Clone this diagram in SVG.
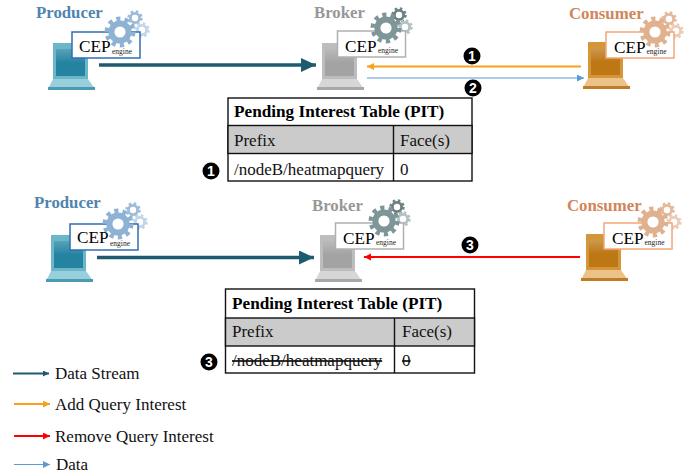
<svg xmlns="http://www.w3.org/2000/svg" xmlns:xlink="http://www.w3.org/1999/xlink" width="697" height="476" viewBox="0 0 697 476">
<style>
text{font-family:"Liberation Serif","Times New Roman",serif;fill:#111}
.title{font-size:16.8px;font-weight:bold}
.cep{font-size:17.200px;fill:#000}
.eng{font-size:7.500px;fill:#222}
.tt{font-size:17.200px;font-weight:bold;fill:#000}
.tc{font-size:17px;fill:#111}
.lg{font-size:17px}
.num{font-family:"Liberation Sans",Arial,sans-serif;font-size:14px;font-weight:bold;fill:#fff;text-anchor:middle}
.tb{fill:#fff;stroke:#111;stroke-width:1.4}
.hd{fill:#cbcbcb;stroke:#111;stroke-width:1.4}
.tl{stroke:#111;stroke-width:1.4;fill:none}
.prod{--frame:#6db5c8;--inner:#2383a0;--base:#97cfdd;--foot:#4a9bb1;--box:#2f6fb3;--g1:#8db2d3;--g2:#9dbcd8;--g3:#c2d6e8}
.brok{--frame:#bdbdbd;--inner:#a3a3a3;--base:#d6d6d6;--foot:#a8a8a8;--box:#b0b0b0;--g1:#7f9699;--g2:#6d8184;--g3:#b3c2c4}
.cons{--frame:#d39638;--inner:#bd7714;--base:#ecc28a;--foot:#bd7d24;--box:#f2a77a;--g1:#e0b18f;--g2:#e3b99b;--g3:#ecccb6}
.prod .title{fill:#4f84b0}.brok .title{fill:#979797}.cons .title{fill:#d0865a}
.frame{fill:var(--frame)}.inner{fill:var(--inner)}.base{fill:var(--base)}.foot{fill:var(--foot)}
.cbox{fill:#fff;stroke:var(--box);stroke-width:1.5}
.gring{fill:none;stroke-width:6}.gteeth{fill:none}
.c1{color:var(--g1)}.c2{color:var(--g2)}.c3{color:var(--g3)}
.ds{stroke:#1f5b6e;fill:none;stroke-width:3.6}
.aq{stroke:#f5a21f;fill:none;stroke-width:2}
.rq{stroke:#f00;fill:none;stroke-width:2}
.da{stroke:#5b9bd5;fill:none;stroke-width:1.1}
.leg{stroke-width:2}
</style>
<defs>
<linearGradient id="sheen" x1="0" y1="0" x2="0" y2="1"><stop offset="0" stop-color="#fff" stop-opacity=".25"/><stop offset="1" stop-color="#fff" stop-opacity="0"/></linearGradient>
<symbol id="laptop" overflow="visible">
<path class="frame" d="M5 0H40V36H5Z"/>
<path class="inner" d="M8 6H37V33H8Z"/>
<path fill="url(#sheen)" d="M8 6H37V20H8Z"/>
<path class="base" d="M5 36H40L47 46H0Z"/>
<rect class="foot" x="0" y="44" width="47" height="3"/>
</symbol>
<symbol id="gear" overflow="visible">
<circle r="9.2" fill="#fff"/>
<circle class="gring" r="8.6" stroke="currentColor"/>
<circle class="gteeth" r="13" stroke="currentColor" stroke-width="5" stroke-dasharray="4.1 4.07"/>
</symbol>
<symbol id="gearS" overflow="visible">
<circle class="gring" r="4.6" stroke="currentColor" style="stroke-width:2.8"/>
<circle class="gteeth" r="6.4" stroke="currentColor" stroke-width="2.6" stroke-dasharray="2.5 2.53"/>
</symbol>
<marker id="mDS" markerUnits="userSpaceOnUse" markerWidth="16" markerHeight="14" refX="15" refY="7" orient="auto"><path d="M0 0L15 7L0 14Z" fill="#1f5b6e"/></marker>
<marker id="mAQ" markerUnits="userSpaceOnUse" markerWidth="8" markerHeight="8" refX="7" refY="3.5" orient="auto"><path d="M0 0L7 3.5L0 7Z" fill="#f5a21f"/></marker>
<marker id="mRQ" markerUnits="userSpaceOnUse" markerWidth="8" markerHeight="8" refX="7" refY="3.5" orient="auto"><path d="M0 0L7 3.5L0 7Z" fill="#f00"/></marker>
<marker id="mDA" markerUnits="userSpaceOnUse" markerWidth="8" markerHeight="8" refX="7" refY="3.5" orient="auto"><path d="M0 0L7 3.5L0 7Z" fill="#5b9bd5"/></marker>
<marker id="mLD" markerUnits="userSpaceOnUse" markerWidth="7" markerHeight="7" refX="6" refY="3" orient="auto"><path d="M0 0L6 3L0 6Z" fill="#1f5b6e"/></marker>
</defs>

<g id="connectors">
<path class="ds" marker-end="url(#mDS)" d="M99 65H316"/>
<path class="aq" marker-end="url(#mAQ)" d="M581 66.500H367"/>
<path class="da" marker-end="url(#mDA)" d="M367 78H584"/>
<path class="ds" marker-end="url(#mDS)" d="M97 257.500H314"/>
<path class="rq" marker-end="url(#mRQ)" d="M580 257H364"/>
</g>

<g id="producer-1" class="prod">
<text class="title" x="36" y="18">Producer</text>
<use href="#laptop" x="48" y="43"/>
<use href="#gearS" class="c2" x="135" y="18"/><use href="#gearS" class="c3" x="142" y="30"/>
<rect class="cbox" x="72" y="32" width="68" height="26"/>
<use href="#gear" class="c1" x="120" y="32"/>
<text class="cep" x="79" y="52">CEP</text><text class="eng" x="112" y="54">engine</text>
</g>
<g id="broker-1" class="brok">
<text class="title" x="314" y="18">Broker</text>
<use href="#laptop" x="317" y="43"/>
<use href="#gearS" class="c2" x="399" y="15"/><use href="#gearS" class="c3" x="405" y="27"/>
<rect class="cbox" x="337.500" y="31" width="68" height="26"/>
<use href="#gear" class="c1" x="386" y="28"/>
<text class="cep" x="345" y="52">CEP</text><text class="eng" x="378" y="53">engine</text>
</g>
<g id="consumer-1" class="cons">
<text class="title" x="569" y="19">Consumer</text>
<use href="#laptop" x="583" y="42"/>
<use href="#gearS" class="c2" x="669" y="19"/><use href="#gearS" class="c3" x="676" y="31"/>
<rect class="cbox" x="606" y="32" width="68" height="26"/>
<use href="#gear" class="c1" x="655" y="32"/>
<text class="cep" x="614" y="53">CEP</text><text class="eng" x="646.500" y="54">engine</text>
</g>

<g id="producer-2" class="prod">
<text class="title" x="34" y="208">Producer</text>
<use href="#laptop" x="46" y="235"/>
<use href="#gearS" class="c2" x="133" y="210"/><use href="#gearS" class="c3" x="140" y="222"/>
<rect class="cbox" x="70" y="224" width="68" height="26"/>
<use href="#gear" class="c1" x="118" y="224"/>
<text class="cep" x="77" y="243">CEP</text><text class="eng" x="110" y="246">engine</text>
</g>
<g id="broker-2" class="brok">
<text class="title" x="312" y="211">Broker</text>
<use href="#laptop" x="315" y="235"/>
<use href="#gearS" class="c2" x="397" y="207"/><use href="#gearS" class="c3" x="403" y="219"/>
<rect class="cbox" x="335.500" y="223" width="68" height="26"/>
<use href="#gear" class="c1" x="384" y="221"/>
<text class="cep" x="343" y="244">CEP</text><text class="eng" x="376" y="245">engine</text>
</g>
<g id="consumer-2" class="cons">
<text class="title" x="567" y="211">Consumer</text>
<use href="#laptop" x="581" y="234"/>
<use href="#gearS" class="c2" x="667" y="210"/><use href="#gearS" class="c3" x="674" y="222"/>
<rect class="cbox" x="604" y="223" width="68" height="26"/>
<use href="#gear" class="c1" x="653" y="222"/>
<text class="cep" x="612" y="244">CEP</text><text class="eng" x="644.500" y="245">engine</text>
</g>

<g id="pit-1">
<rect class="tb" x="228" y="98" width="244" height="83"/>
<rect class="hd" x="228" y="125.500" width="244" height="28"/>
<path class="tl" d="M393.500 125.500V181"/>
<text class="tt" x="234" y="117">Pending Interest Table (PIT)</text>
<text class="tc" x="234" y="146">Prefix</text><text class="tc" x="400" y="146">Face(s)</text>
<text class="tc" x="234" y="175">/nodeB/heatmapquery</text><text class="tc" x="400" y="175">0</text>
</g>
<g id="pit-2">
<rect class="tb" x="225.500" y="289" width="249" height="84"/>
<rect class="hd" x="225.500" y="318" width="249" height="28"/>
<path class="tl" d="M394.500 318V373"/>
<text class="tt" x="232" y="309">Pending Interest Table (PIT)</text>
<text class="tc" x="232" y="337">Prefix</text><text class="tc" x="402" y="337">Face(s)</text>
<text class="tc" x="232" y="366" text-decoration="line-through">/nodeB/heatmapquery</text><text class="tc" x="402" y="366" text-decoration="line-through">0</text>
</g>

<g id="badges">
<circle cx="472" cy="56" r="8.500"/><text class="num" x="472" y="61">1</text>
<circle cx="473" cy="88" r="8.500"/><text class="num" x="473" y="93">2</text>
<circle cx="211" cy="171" r="8.500"/><text class="num" x="211" y="176">1</text>
<circle cx="470" cy="245" r="8.500"/><text class="num" x="470" y="250">3</text>
<circle cx="209" cy="362" r="8.500"/><text class="num" x="209" y="367">3</text>
</g>

<g id="legend">
<path class="ds leg" marker-end="url(#mLD)" d="M13 373.500H49"/><text class="lg" x="55" y="379">Data Stream</text>
<path class="aq leg" marker-end="url(#mAQ)" d="M14 404H50"/><text class="lg" x="55" y="410">Add Query Interest</text>
<path class="rq leg" marker-end="url(#mRQ)" d="M14 436H50"/><text class="lg" x="55" y="442">Remove Query Interest</text>
<path class="da" marker-end="url(#mDA)" d="M14 464.500H50"/><text class="lg" x="56" y="470">Data</text>
</g>
</svg>
